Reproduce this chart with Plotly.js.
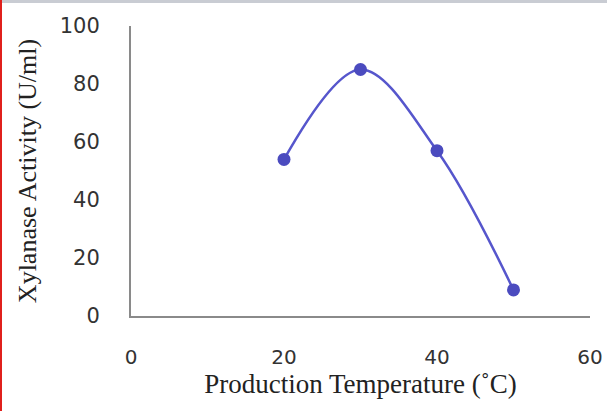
<!DOCTYPE html>
<html><head><meta charset="utf-8">
<script src="https://cdn.plot.ly/plotly-3.0.1.min.js"></script>
<style>
html,body{margin:0;padding:0;background:#fff;}
#wrap{position:relative;width:607px;height:411px;overflow:hidden;}
#chart{width:607px;height:411px;}
#lb{position:absolute;left:0;top:0;width:2px;height:411px;background:#e0201c;}
#tb{position:absolute;left:0;top:0;width:607px;height:3px;background:#c9ccd3;}
</style></head>
<body><div id="wrap"><div id="chart"></div><div id="tb"></div><div id="lb"></div></div>
<script>
const temperature = [20, 30, 40, 50];
const activity = [54, 85, 57, 9];
const xTicks = [0, 20, 40, 60];
const yTicks = [0, 20, 40, 60, 80, 100];

Plotly.newPlot('chart', [{
  x: temperature, y: activity, type: 'scatter', mode: 'lines+markers',
  line: {shape: 'spline', smoothing: 1, color: '#5656cc', width: 2.5},
  marker: {size: 13, color: '#4b4bbf'}
}], {
  width: 607, height: 411,
  margin: {l: 131, r: 17, t: 26, b: 95},
  paper_bgcolor: '#fff', plot_bgcolor: '#fff',
  showlegend: false,
  xaxis: {range: [0, 60], tickvals: xTicks, showgrid: false, zeroline: false,
    showline: true, linecolor: '#8a8a8a', linewidth: 2, ticks: '',
    ticklabelstandoff: 22,
    tickfont: {family: 'DejaVu Sans', size: 20, color: '#333'},
    title: {text: 'Production Temperature (˚C)', standoff: 4,
      font: {family: 'Liberation Serif', size: 27, color: '#222'}}},
  yaxis: {range: [0, 100], tickvals: yTicks, showgrid: false, zeroline: false,
    showline: true, linecolor: '#8a8a8a', linewidth: 2, ticks: '',
    ticklabelstandoff: 25,
    tickfont: {family: 'DejaVu Sans', size: 21, color: '#333'},
    title: {text: 'Xylanase Activity (U/ml)', standoff: 16,
      font: {family: 'Liberation Serif', size: 26, color: '#222'}}}
}, {displayModeBar: false, staticPlot: true});
</script></body></html>
